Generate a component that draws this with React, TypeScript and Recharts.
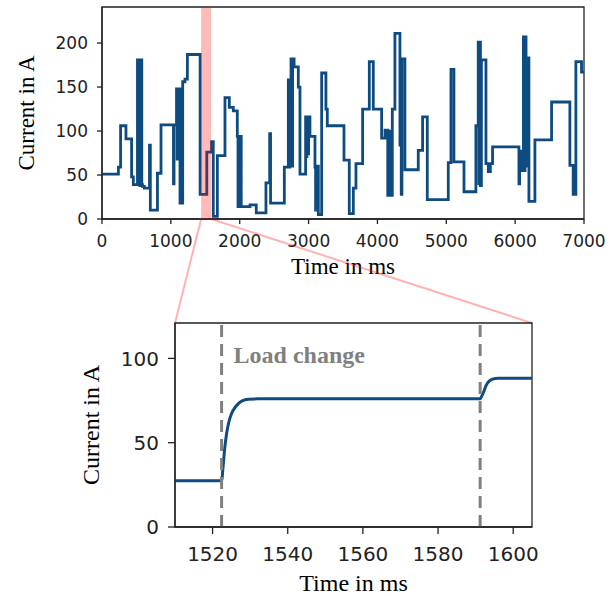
import { LineChart, Line, XAxis, YAxis, ReferenceArea, ReferenceLine, Label } from 'recharts';

// overview: step profile of the load current (value holds until the next time)
const stepTimes = [
  0, 238, 270, 348, 430, 455, 515, 528, 538, 550, 562, 578, 588, 615, 690, 702, 805, 857,
  1038, 1046, 1082, 1092, 1100, 1112, 1122, 1133, 1148, 1156, 1172, 1205, 1240, 1425, 1522,
  1591, 1616, 1675, 1786, 1849, 1907, 1965, 1975, 1988, 1998, 2010, 2022, 2150, 2240, 2381,
  2435, 2448, 2648, 2706, 2716, 2728, 2745, 2758, 2768, 2790, 2851, 2875, 2957, 2966, 2976,
  2988, 3000, 3020, 3093, 3102, 3112, 3122, 3132, 3142, 3190, 3252, 3272, 3514, 3591, 3650,
  3688, 3785, 3882, 3940, 4061, 4110, 4150, 4160, 4170, 4180, 4190, 4216, 4254, 4327, 4336,
  4346, 4356, 4399, 4593, 4656, 4724, 5029, 5068, 5111, 5257, 5430, 5464, 5474, 5484, 5496,
  5510, 5576, 5610, 5640, 5672, 6055, 6065, 6105, 6120, 6132, 6144, 6158, 6170, 6200, 6287,
  6529, 6795, 6843, 6882, 6964, 7000,
];
const stepCurrent = [
  51, 59, 106, 91, 48, 39, 181, 40, 181, 38, 181, 39, 37, 35, 84, 10, 52, 107,
  40, 107, 148, 68, 148, 96, 148, 18, 60, 18, 156, 159, 187, 28, 76,
  88, 3, 72, 138, 127, 123, 94, 14, 94, 14, 94, 14, 16, 7, 41,
  97, 18, 59, 158, 59, 158, 182, 60, 182, 173, 150, 51, 116, 71, 116,
  74, 116, 94, 59, 10, 50, 10, 60, 5, 166, 125, 106, 67, 6, 35,
  63, 125, 179, 125, 92, 101, 27, 95, 27, 100, 27, 125, 211, 84, 182,
  28, 182, 56, 78, 116, 22, 64, 170, 65, 31, 106, 201, 40, 201, 38,
  181, 63, 54, 63, 82, 40, 77, 55, 207, 55, 207, 60, 183, 20, 90,
  133, 61, 28, 179, 167, 167,
];

// zoomed window around the highlighted region
const zoomTimes = [
  1510, 1522.4, 1522.8, 1523.2, 1523.7, 1524.3, 1525, 1526, 1527, 1528, 1529.5, 1532,
  1591.2, 1591.6, 1592.2, 1592.8, 1593.6, 1594.5, 1596, 1605,
];
const zoomCurrent = [
  27.5, 27.5, 36, 46, 55, 62, 67, 71, 73.5, 75, 75.8, 76,
  76, 77.5, 80.5, 84, 86.5, 87.7, 88.2, 88.2,
];

const overviewTimeTicks = [0, 1000, 2000, 3000, 4000, 5000, 6000, 7000];
const overviewCurrentTicks = [0, 50, 100, 150, 200];
const zoomTimeTicks = [1520, 1540, 1560, 1580, 1600];
const zoomCurrentTicks = [0, 50, 100];
const overviewDomain = [0, 7000];
const overviewMax = 241;
const zoomDomain = [1510, 1605];
const zoomMax = 121;
const highlight = [1440, 1585];
const loadChanges = [1522.4, 1591.2];

const overviewData = stepTimes.map((t, i) => ({ t, current: stepCurrent[i] }));
const zoomData = zoomTimes.map((t, i) => ({ t, current: zoomCurrent[i] }));

const W = 616;
const BLUE = '#0d4b80';
const AXIS = '#222';
const serif = 'Liberation Serif, Times New Roman, serif';
const sans = 'DejaVu Sans, sans-serif';

// top chart geometry
const TOP = { h: 290, yw: 102, xh: 30, margin: { top: 7, right: 32, bottom: 41, left: 0 } };
const topLeft = TOP.margin.left + TOP.yw;
const topRight = W - TOP.margin.right;
const topBottom = TOP.h - TOP.margin.bottom - TOP.xh;
const xTop = (t: number) =>
  topLeft + ((t - overviewDomain[0]) / (overviewDomain[1] - overviewDomain[0])) * (topRight - topLeft);

// bottom chart geometry
const BOT = { y: 300, h: 296, yw: 175, xh: 35, margin: { top: 23, right: 84, bottom: 34, left: 0 } };
const botLeft = BOT.margin.left + BOT.yw;
const botRight = W - BOT.margin.right;
const botTop = BOT.y + BOT.margin.top;

const axisLine = { stroke: AXIS, strokeWidth: 1.3 };

export default function App() {
  return (
    <div style={{ position: 'absolute', left: 0, top: 0, width: W, height: 596, background: '#fff' }}>
      <div style={{ position: 'absolute', left: 0, top: 0 }}>
        <LineChart width={W} height={TOP.h} data={overviewData} margin={TOP.margin}>
          <XAxis
            dataKey="t"
            type="number"
            domain={overviewDomain}
            ticks={overviewTimeTicks}
            height={TOP.xh}
            axisLine={axisLine}
            tickLine={axisLine}
            tickSize={5}
            tickMargin={11}
            tick={{ fontFamily: sans, fontSize: 17, fill: AXIS }}
          >
            <Label value="Time in ms" position="bottom" offset={9}
              style={{ fontFamily: serif, fontSize: 23, fill: '#000' }} />
          </XAxis>
          <YAxis
            type="number"
            domain={[0, overviewMax]}
            ticks={overviewCurrentTicks}
            width={TOP.yw}
            axisLine={axisLine}
            tickLine={axisLine}
            tickSize={5}
            tickMargin={9}
            tick={{ fontFamily: sans, fontSize: 17, fill: AXIS }}
          >
            <Label value="Current in A" angle={-90} position="insideLeft" offset={26}
              style={{ textAnchor: 'middle', fontFamily: serif, fontSize: 23, fill: '#000' }} />
          </YAxis>
          <ReferenceArea x1={overviewDomain[0]} x2={overviewDomain[1]} y1={0} y2={overviewMax}
            fill="none" stroke={AXIS} strokeWidth={1.3} />
          <Line
            type="stepAfter"
            dataKey="current"
            stroke={BLUE}
            strokeWidth={2.8}
            dot={false}
            isAnimationActive={false}
          />
          <ReferenceArea x1={highlight[0]} x2={highlight[1]} y1={0} y2={overviewMax}
            fill="#ff0000" fillOpacity={0.27} stroke="none" zIndex={1000} />
        </LineChart>
      </div>

      <svg width={W} height={596} style={{ position: 'absolute', left: 0, top: 0, pointerEvents: 'none' }}>
        <line x1={xTop(highlight[0])} y1={topBottom} x2={botLeft} y2={botTop}
          stroke="#ff0000" strokeOpacity={0.3} strokeWidth={2} />
        <line x1={xTop(highlight[1])} y1={topBottom} x2={botRight} y2={botTop}
          stroke="#ff0000" strokeOpacity={0.3} strokeWidth={2} />
      </svg>

      <div style={{ position: 'absolute', left: 0, top: BOT.y }}>
        <LineChart width={W} height={BOT.h} data={zoomData} margin={BOT.margin}>
          <XAxis
            dataKey="t"
            type="number"
            domain={zoomDomain}
            ticks={zoomTimeTicks}
            allowDataOverflow
            height={BOT.xh}
            axisLine={axisLine}
            tickLine={axisLine}
            tickSize={7}
            tickMargin={13}
            tick={{ fontFamily: sans, fontSize: 20, fill: AXIS }}
          >
            <Label value="Time in ms" position="bottom" offset={12}
              style={{ fontFamily: serif, fontSize: 24, fill: '#000' }} />
          </XAxis>
          <YAxis
            type="number"
            domain={[0, zoomMax]}
            ticks={zoomCurrentTicks}
            width={BOT.yw}
            axisLine={axisLine}
            tickLine={axisLine}
            tickSize={7}
            tickMargin={9}
            tick={{ fontFamily: sans, fontSize: 20, fill: AXIS }}
          >
            <Label value="Current in A" angle={-90} position="insideLeft" offset={90}
              style={{ textAnchor: 'middle', fontFamily: serif, fontSize: 24, fill: '#000' }} />
          </YAxis>
          <ReferenceArea x1={zoomDomain[0]} x2={zoomDomain[1]} y1={0} y2={zoomMax}
            fill="none" stroke={AXIS} strokeWidth={1.3} />
          <Line
            type="monotone"
            dataKey="current"
            stroke={BLUE}
            strokeWidth={3}
            dot={false}
            isAnimationActive={false}
          />
          {loadChanges.map((x, i) => (
            <ReferenceLine
              key={x}
              x={x}
              stroke="#808080"
              strokeWidth={3}
              strokeDasharray="12 7"
              label={i === 0 ? (props: any) => (
                <text
                  x={props.viewBox.x + 12}
                  y={props.viewBox.y + 40}
                  fontFamily={serif}
                  fontWeight="bold"
                  fontSize={24}
                  fill="#808080"
                >
                  Load change
                </text>
              ) : undefined}
            />
          ))}
        </LineChart>
      </div>
    </div>
  );
}
